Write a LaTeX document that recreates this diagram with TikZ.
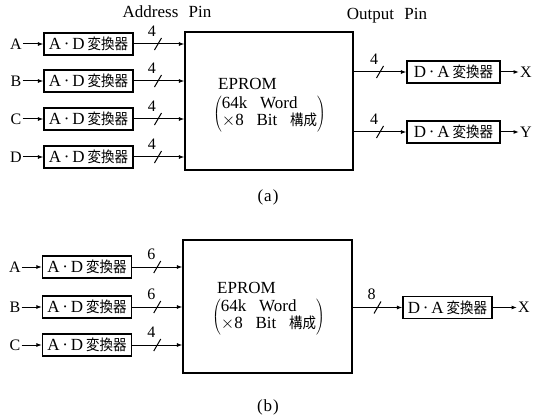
\documentclass[tikz,border=0pt]{standalone}
\usepackage{fontspec}
\setmainfont{Liberation Serif}
\newfontfamily\jp[Scale=0.88,FakeStretch=0.9]{Noto Sans CJK JP}
\usetikzlibrary{arrows.meta,calc}
\newcommand{\ADc}{A\,·\,D\kern3pt{\jp 変換器}}
\newcommand{\DAc}{D\,·\,A\kern3pt{\jp 変換器}}
\newcommand{\romtext}{$\left(\begin{tabular}{@{}l@{}}64k\hspace{0.75em}Word\\$\times$8\hspace{0.75em}Bit\hspace{0.75em}{\jp 構成}\end{tabular}\right)$}
\newcommand{\romblock}{\begin{tabular}[t]{@{}l@{}}\hspace{5pt}EPROM\\[1pt]\romtext\end{tabular}}
\tikzset{
  conv/.style={draw, line width=1.2pt, minimum width=89pt, minimum height=22pt, inner sep=1pt, font=\fontsize{17}{16}\selectfont},
  rom/.style={draw, line width=1.2pt},
  lbl/.style={font=\fontsize{16}{16}\selectfont, inner sep=1pt},
  big/.style={font=\fontsize{17}{16}\selectfont, inner sep=0pt},
  num/.style={font=\fontsize{16}{16}\selectfont, inner sep=0pt},
  conn/.style={line width=1pt, -{Latex[length=5.5pt,width=4pt]}},
  slashline/.style={line width=1pt}
}
\newcommand{\busmark}[2]{%
  \draw[slashline] ($(#1)+(-3.5,6)$) -- ($(#1)+(3.5,-6)$);
  \node[num] at ($(#1)+(-6,-13)$) {#2};}
\begin{document}
\begin{tikzpicture}[x=1pt,y=-1pt]
\useasboundingbox (0,0) rectangle (539,420);
% ---------- (a) ----------
\node[big, anchor=base] (hA) at (167,17.5) {Address\hspace{0.6em}Pin};
\node[big, anchor=base] (hO) at (387,20) {Output\hspace{0.6em}Pin};
\node[rom, minimum width=168pt, minimum height=138pt] (E1) at (269,101) {};
\node[big, anchor=base west] (E1t) at (213,90) {\romblock};
\foreach \n/\y in {A/44,B/81,C/119,D/157}{
  \node[lbl] (l\n) at (16,\y) {\n};
  \node[conv] (ad\n) at (88.5,\y) {\ADc};
  \draw[conn] (l\n.east) -- (ad\n.west);
  \draw[conn] (ad\n.east) -- coordinate[pos=0.48] (s\n) (ad\n.east -| E1.west);
  \busmark{s\n}{4}
}
\node[conv, minimum width=93pt] (daX) at (453.5,72) {\DAc};
\node[conv, minimum width=93pt] (daY) at (453.5,132) {\DAc};
\node[lbl] (X) at (526,72) {X};
\node[lbl] (Y) at (526,132) {Y};
\draw[conn] (E1.east |- daX.west) -- coordinate[pos=0.5] (sX) (daX.west);
\draw[conn] (E1.east |- daY.west) -- coordinate[pos=0.5] (sY) (daY.west);
\busmark{sX}{4}
\busmark{sY}{4}
\draw[conn] (daX.east) -- (X.west);
\draw[conn] (daY.east) -- (Y.west);
\node[big] (capa) at (268,197) {(\kern1pt a\kern1pt)};
% ---------- (b) ----------
\node[rom, minimum width=169pt, minimum height=133pt] (E2) at (267.5,306.5) {};
\node[big, anchor=base west] (E2t) at (212,293) {\romblock};
\foreach \n/\y/\w in {A/267/6,B/307/6,C/345/4}{
  \node[lbl] (m\n) at (15,\y) {\n};
  \node[conv] (bd\n) at (87,\y) {\ADc};
  \draw[conn] (m\n.east) -- (bd\n.west);
  \draw[conn] (bd\n.east) -- coordinate[pos=0.5] (t\n) (bd\n.east -| E2.west);
  \busmark{t\n}{\w}
}
\node[conv] (daZ) at (447.5,307.5) {\DAc};
\node[lbl] (Z) at (524,307.5) {X};
\draw[conn] (E2.east |- daZ.west) -- coordinate[pos=0.5] (sZ) (daZ.west);
\busmark{sZ}{8}
\draw[conn] (daZ.east) -- (Z.west);
\node[big] (capb) at (268,407) {(\kern1pt b\kern1pt)};
\end{tikzpicture}
\end{document}
